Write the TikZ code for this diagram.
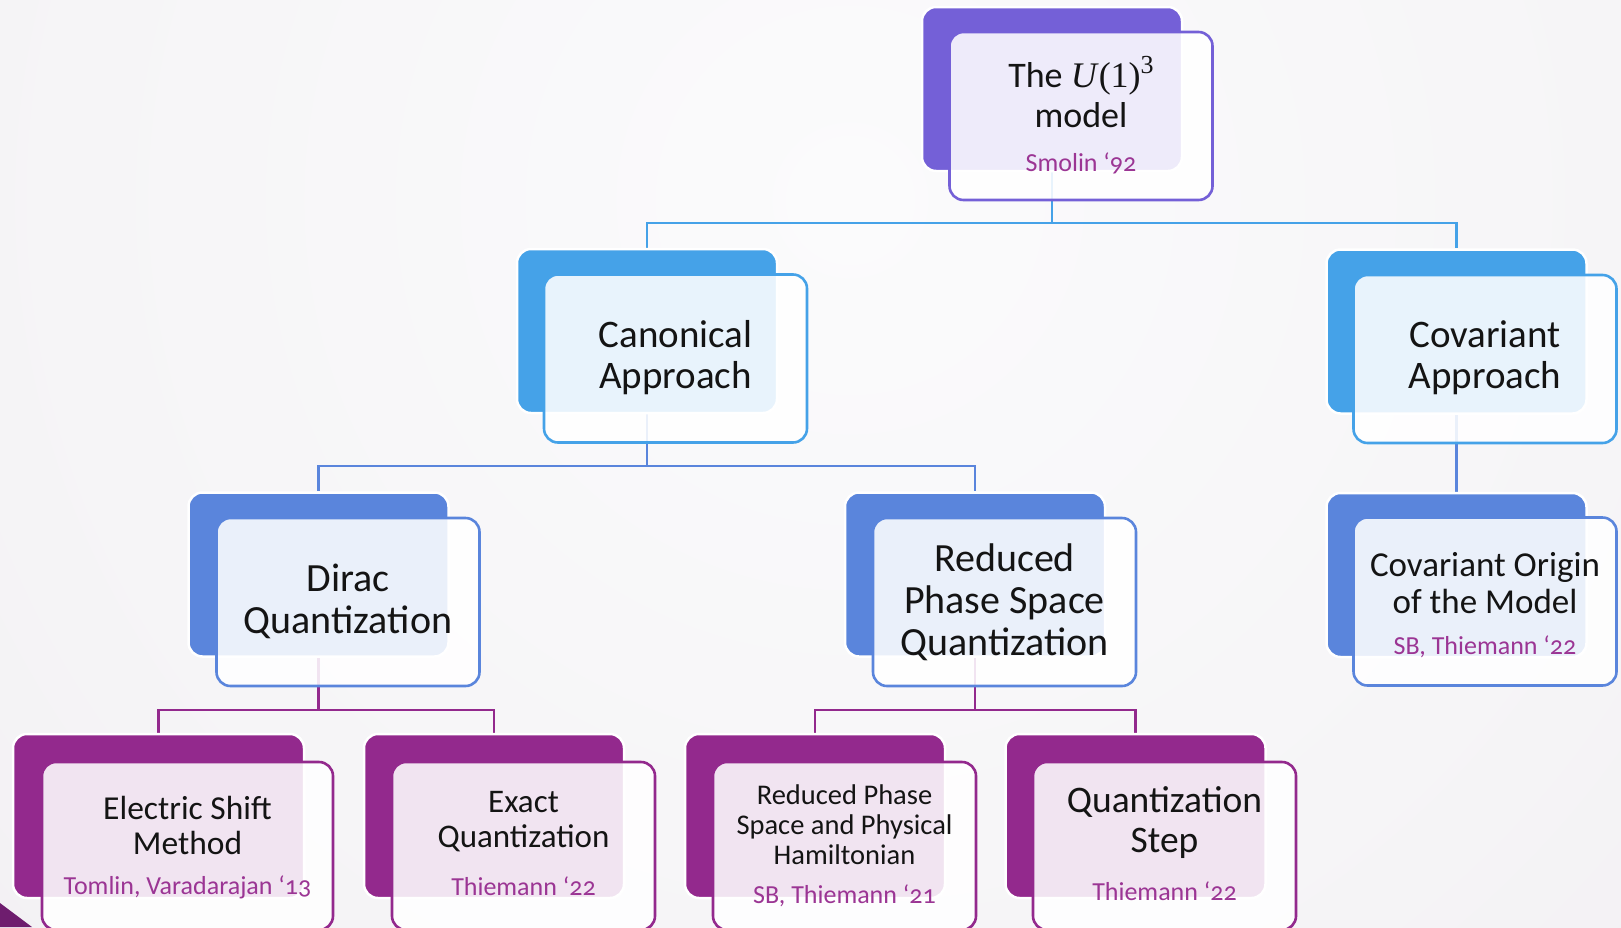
\documentclass[tikz,border=0pt]{standalone}
\usepackage{fontspec}
\setmainfont{Carlito}
\newfontfamily\citefont{Carlito}[Numbers=OldStyle]
\newfontfamily\symfont{Liberation Serif}
\usetikzlibrary{calc}

\definecolor{topc}{HTML}{7460D7}
\definecolor{lvtwo}{HTML}{45A2E8}
\definecolor{lvthree}{HTML}{5A85DC}
\definecolor{lvfour}{HTML}{93298D}
\definecolor{citec}{HTML}{9B3594}
\definecolor{ink}{HTML}{141414}
\definecolor{bgA}{HTML}{FBFBFC}
\definecolor{bgB}{HTML}{F6F5F7}
\definecolor{bgC}{HTML}{EEEBEF}
\definecolor{bgD}{HTML}{DCD7DD}
\definecolor{cornerc}{HTML}{6E1D6E}

\pgfdeclareradialshading{bgglow}{\pgfpoint{0bp}{0bp}}{color(0bp)=(bgA); color(15bp)=(bgB); color(32bp)=(bgC); color(42bp)=(bgD); color(50bp)=(bgD)}

\pgfdeclarelayer{bg}
\pgfdeclarelayer{links}
\pgfsetlayers{bg,links,main}

% the group name U(1)^3 set in a serif face
\newcommand{\groupname}{{\symfont\itshape U\/}{\symfont(1)\raisebox{0.40em}{\fontsize{26}{26}\selectfont 3}}}

\begin{document}
\begin{tikzpicture}[x=1pt,y=-1pt,
  back/.style={rectangle, rounded corners=14pt, draw=white, line width=2.5pt,
    fill=#1, minimum width=260pt, minimum height=164pt, inner sep=0pt},
  front/.style={rectangle, rounded corners=14pt, draw=#1, line width=2.6pt,
    fill=white, fill opacity=0.88, minimum width=263pt, minimum height=168pt, inner sep=0pt},
  label/.style={align=center, text=ink, inner sep=0pt},
  cite/.style={text=citec, inner sep=0pt, font=\citefont\fontsize{26}{30}\selectfont},
  linktop/.style={draw=lvtwo, line width=2.8pt},
  linkmid/.style={draw=lvthree, line width=2.8pt},
  linklow/.style={draw=lvfour, line width=2.8pt}
]
\useasboundingbox (0,0) rectangle (1621,927);
\clip (0,0) rectangle (1621,927);

% slide background
\begin{pgfonlayer}{bg}
  \fill[bgD] (0,0) rectangle (1621,927);
  \path[shading=bgglow] (850,200) circle (1300);
  \fill[cornerc] (0,903) -- (32,927) -- (0,927) -- cycle;
\end{pgfonlayer}

% bus rails
\coordinate (busA) at (0,223);
\coordinate (busB) at (0,466);
\coordinate (busC) at (0,710);

% level 1
\node[back=topc]  (topB) at (1052,89) {};
\node[front=topc] (topF) at (1081,116) {};
\node[label, font=\fontsize{36}{40}\selectfont] (topT) at (1081,92) {The \groupname\\model};
\node[cite] (topC) at (1081,163) {Smolin ‘92};

% level 2
\node[back=lvtwo]  (canB) at (647,331) {};
\node[front=lvtwo] (canF) at (675.5,358.5) {};
\node[label, font=\fontsize{39}{41}\selectfont] (canT) at (675.5,358) {Canonical\\Approach};

\node[back=lvtwo]  (covB) at (1456.5,331.5) {};
\node[front=lvtwo] (covF) at (1485,359) {};
\node[label, font=\fontsize{39}{41}\selectfont] (covT) at (1485,358) {Covariant\\Approach};

% level 3
\node[back=lvthree]  (dirB) at (318.5,574.5) {};
\node[front=lvthree] (dirF) at (348,602) {};
\node[label, font=\fontsize{40}{42}\selectfont] (dirT) at (348,601) {Dirac\\Quantization};

\node[back=lvthree]  (redB) at (975,574.5) {};
\node[front=lvthree] (redF) at (1004.5,602) {};
\node[label, font=\fontsize{40}{42}\selectfont] (redT) at (1004.5,602) {Reduced\\Phase Space\\Quantization};

\node[back=lvthree]  (covoB) at (1456.5,575) {};
\node[front=lvthree] (covoF) at (1485,601.5) {};
\node[label, font=\fontsize{35}{37}\selectfont] (covoT) at (1485,583) {Covariant Origin\\of the Model};
\node[cite] (covoC) at (1485,647) {SB, Thiemann ‘22};

% level 4
\node[back=lvfour, minimum width=291pt]  (elecB) at (158.5,816) {};
\node[front=lvfour, minimum width=291pt] (elecF) at (187.5,846) {};
\node[label, font=\fontsize{33.5}{35}\selectfont] (elecT) at (187.5,825) {Electric Shift\\Method};
\node[cite] (elecC) at (187.5,887) {Tomlin, Varadarajan ‘13};

\node[back=lvfour]  (exB) at (494,816) {};
\node[front=lvfour] (exF) at (523.5,846) {};
\node[label, font=\fontsize{33}{35}\selectfont] (exT) at (523.5,822) {Exact\\Quantization};
\node[cite] (exC) at (523.5,886) {Thiemann ‘22};

\node[back=lvfour]  (rpB) at (815,816) {};
\node[front=lvfour] (rpF) at (844.5,846) {};
\node[label, font=\fontsize{28.5}{30}\selectfont] (rpT) at (844.5,825) {Reduced Phase\\Space and Physical\\Hamiltonian};
\node[cite] (rpC) at (844.5,896) {SB, Thiemann ‘21};

\node[back=lvfour]  (qsB) at (1135.5,816) {};
\node[front=lvfour] (qsF) at (1164.5,846) {};
\node[label, font=\fontsize{37.5}{40}\selectfont] (qsT) at (1164.5,823) {Quantization\\Step};
\node[cite] (qsC) at (1164.5,891) {Thiemann ‘22};

% connectors, kept beneath the boxes
\begin{pgfonlayer}{links}
  \draw[linktop] (topB.center) -- (topB.center |- busA) -| (canB.north);
  \draw[linktop] (topB.center |- busA) -| (covB.north);
  \draw[linkmid] (canB.center) -- (canB.center |- busB) -| (dirB.north);
  \draw[linkmid] (canB.center |- busB) -| (redB.north);
  \draw[linkmid] (covB.center) -- (covoB.north);
  \draw[linklow] (dirB.center) -- (dirB.center |- busC) -| (elecB.north);
  \draw[linklow] (dirB.center |- busC) -| (exB.north);
  \draw[linklow] (redB.center) -- (redB.center |- busC) -| (rpB.north);
  \draw[linklow] (redB.center |- busC) -| (qsB.north);
\end{pgfonlayer}
\end{tikzpicture}
\end{document}
